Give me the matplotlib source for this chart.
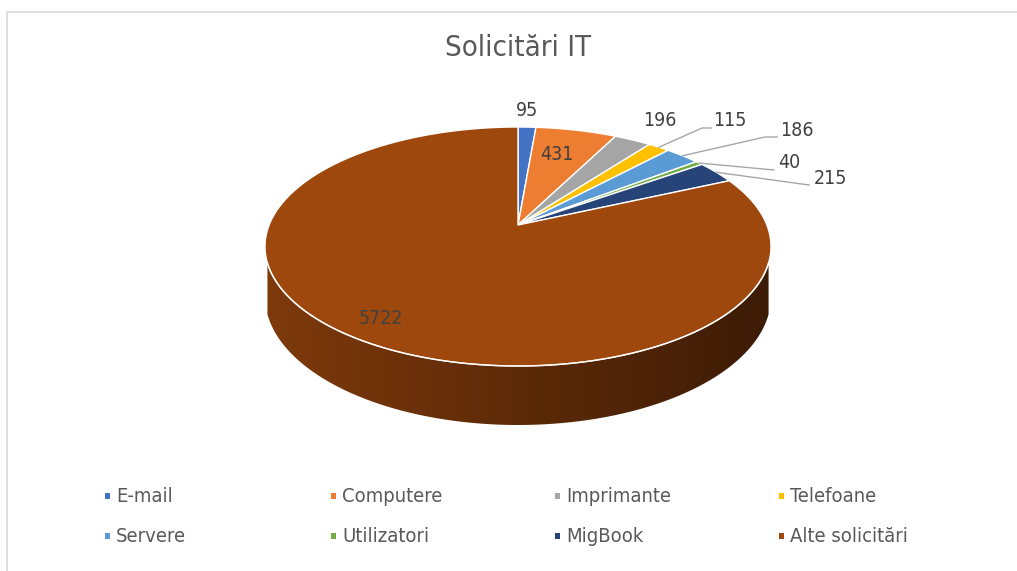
import numpy as np
import matplotlib
matplotlib.use("Agg")
import matplotlib.pyplot as plt
from matplotlib.patches import Polygon, Rectangle
from matplotlib.colors import to_rgb

categories = ["E-mail", "Computere", "Imprimante", "Telefoane",
              "Servere", "Utilizatori", "MigBook", "Alte solicitări"]
values = [95, 431, 196, 115, 186, 40, 215, 5722]
colors = ["#4472C4", "#ED7D31", "#A5A5A5", "#FFC000",
          "#5B9BD5", "#70AD47", "#264478", "#9E480E"]
title = "Solicitări IT"

# label centres in pixels, and the bend/end points of the leader lines
label_pos = [(527, 111), (557, 155), (660, 120), (730, 121),
             (797, 131), (789, 163), (830, 179), (381, 319)]
leaders = [None, None, None, [(702, 128), (711, 128)], [(765, 137), (777, 137)],
           [(774, 170)], [(809, 185)], None]

FONT = dict(family="DejaVu Sans", fontstretch="condensed")

# pie geometry on screen (pixels): perspective view of a disc
cx, y_mid, y_far, y_near, half_w, y_base = 518, 225, 127, 366, 253, 425
y_wall = 263  # rim height where the side wall starts showing
r = (y_near - y_mid) / (y_mid - y_far)
d = (r + 1) / (r - 1)
H = (y_mid - y_far) * d * (d + 1)
yh = y_mid - H / d
F = half_w * np.sqrt(d * d - 1)
H2 = (y_base - yh) * (d - 1)


def proj(theta, base=False):
    X, Z = np.sin(theta), np.cos(theta)
    x = cx + F * X / (d + Z)
    y = yh + (H2 if base else H) / (d + Z)
    return x, y


fig = plt.figure(figsize=(10.17, 5.71), dpi=100)
ax = fig.add_axes([0, 0, 1, 1])
ax.set_xlim(0, 1017)
ax.set_ylim(571, 0)
ax.axis("off")

# chart area border
ax.plot([7, 7, 1017], [571, 12, 12], color="#D9D9D9", lw=1.2, solid_joinstyle="miter")

total = float(sum(values))
bounds = np.concatenate([[0], np.cumsum(values)]) / total * 2 * np.pi

# side wall (front part only), shaded from light left to dark right
t0 = np.arccos(H / (y_wall - yh) - d)
t1 = 2 * np.pi - t0
shade = np.linspace(0.80, 0.38, 256)
for i, c in enumerate(colors):
    a, b = max(bounds[i], t0), min(bounds[i + 1], t1)
    if a >= b:
        continue
    ts = np.linspace(a, b, 300)
    xt, yt = proj(ts)
    xb, yb = proj(ts[::-1], True)
    wall = Polygon(list(zip(xt, yt)) + list(zip(xb, yb)), closed=True,
                   fc="none", ec="none")
    ax.add_patch(wall)
    grad = np.array(to_rgb(c))[None, None, :] * shade[None, :, None]
    im = ax.imshow(grad, extent=(cx - half_w, cx + half_w, y_base + 2, y_far),
                   aspect="auto", interpolation="bilinear", zorder=1)
    im.set_clip_path(wall)
ax.set_xlim(0, 1017)
ax.set_ylim(571, 0)

# top surface
for i, c in enumerate(colors):
    ts = np.linspace(bounds[i], bounds[i + 1], max(3, int(400 * values[i] / total)))
    xs, ys = proj(ts)
    pts = [(cx, y_mid)] + list(zip(xs, ys))
    ax.add_patch(Polygon(pts, closed=True, fc=c, ec="white", lw=1.0,
                         joinstyle="round", zorder=2))

# light rim on the front edge
ts = np.linspace(t0, t1, 300)
xs, ys = proj(ts)
ax.plot(xs, ys, color="white", lw=1.0, alpha=0.9, zorder=3)

# data labels and leader lines
for i, v in enumerate(values):
    if leaders[i] is not None:
        mid = (bounds[i] + bounds[i + 1]) / 2
        x0, y0 = proj(mid)
        pts = [(x0, y0)] + leaders[i]
        ax.plot([p[0] for p in pts], [p[1] for p in pts], color="#A6A6A6",
                lw=1.0, zorder=3)
    ax.text(label_pos[i][0], label_pos[i][1], str(v), ha="center", va="center",
            fontsize=14, color="#404040", zorder=4, **FONT)

ax.text(518, 48, title, ha="center", va="center", fontsize=21, color="#595959", **FONT)

# legend
col_x = [107, 333, 557, 781]
row_y = [496, 536]
for i, name in enumerate(categories):
    x = col_x[i % 4]
    y = row_y[i // 4]
    ax.add_patch(Rectangle((x - 2.5, y - 3), 5, 6, fc=colors[i], ec="none"))
    ax.text(x + 9, y, name, ha="left", va="center", fontsize=14.5,
            color="#595959", **FONT)

fig.savefig("out.png", dpi=100)
